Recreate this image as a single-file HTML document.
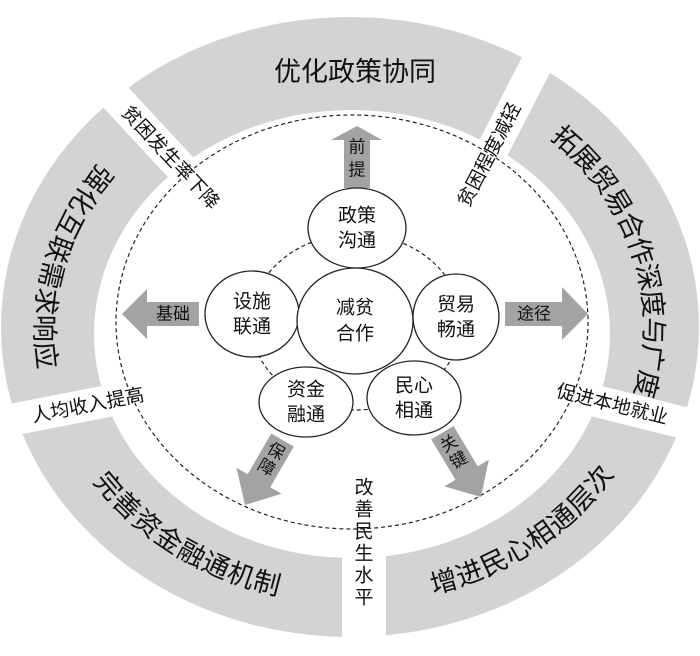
<!DOCTYPE html>
<html><head><meta charset="utf-8"><style>
html,body{margin:0;padding:0;background:#fff;}
svg{display:block;font-family:"Liberation Sans","Noto Sans CJK SC",sans-serif;}
</style></head><body>
<svg width="700" height="656" viewBox="0 0 700 656" xmlns="http://www.w3.org/2000/svg">
<defs>
<path id="pR" d="M 544.8 123.2 A 303 266 0 0 1 638.2 410.2"/>
<path id="pL" d="M 110.6 164.1 A 303 266 0 0 0 48.2 374.2"/>
<path id="pBL" d="M 89.6 461.0 A 303 266 0 0 0 297.4 590.0"/>
<path id="pBR" d="M 412.4 589.6 A 303 266 0 0 0 617.5 452.9"/>
</defs>
<path fill="#d3d3d3" fill-rule="evenodd" d="M 1 327 A 349 310 0 1 0 699 327 A 349 310 0 1 0 1 327 Z M 94 334 A 258 224 0 1 0 610 334 A 258 224 0 1 0 94 334 Z"/>
<g stroke="#fff" stroke-width="32">
<line x1="70" y1="48" x2="274" y2="268"/>
<line x1="444" y1="244" x2="555" y2="28"/>
<line x1="520" y1="382" x2="720" y2="432"/>
<line x1="-20" y1="426" x2="190" y2="385"/>
</g>
<rect x="342" y="530" width="44" height="126" fill="#fff"/>
<g font-size="27" fill="#111">
<text x="355" y="81" text-anchor="middle">优化政策协同</text>
<text dominant-baseline="central"><textPath href="#pR" startOffset="50%" text-anchor="middle">拓展贸易合作深度与广度</textPath></text>
<text dominant-baseline="central"><textPath href="#pL" startOffset="50%" text-anchor="middle">强化互联需求响应</textPath></text>
<text dominant-baseline="central"><textPath href="#pBL" startOffset="50%" text-anchor="middle">完善资金融通机制</textPath></text>
<text dominant-baseline="central"><textPath href="#pBR" startOffset="50%" text-anchor="middle">增进民心相通层次</textPath></text>
</g>
<g font-size="19" fill="#111" text-anchor="middle" dominant-baseline="central">
<text transform="translate(170,158) rotate(47)">贫困发生率下降</text>
<text transform="translate(490,155) rotate(-62.5)">贫困程度减轻</text>
<text transform="translate(612,405) rotate(14)">促进本地就业</text>
<text transform="translate(88,406) rotate(-11)">人均收入提高</text>
<text x="364" y="488">改</text>
<text x="364" y="510">善</text>
<text x="364" y="532">民</text>
<text x="364" y="554">生</text>
<text x="364" y="576">水</text>
<text x="364" y="598">平</text>
</g>
<ellipse cx="352" cy="322" rx="236" ry="207" fill="none" stroke="#222" stroke-width="1.2" stroke-dasharray="4,3"/>
<ellipse cx="356" cy="322" rx="105" ry="88" fill="none" stroke="#222" stroke-width="1.2" stroke-dasharray="4,3"/>
<g fill="#a3a3a3">
<polygon points="344,188 344,140 331,140 357,126 382,140 370,140 370,188"/>
<polygon points="199,302 147,302 147,289 122,314 147,339 147,326 199,326"/>
<polygon points="505,302 562,302 562,287 588,314 562,340 562,326 505,326"/>
<g transform="translate(245,505) rotate(30)"><polygon points="-13,-75 13,-75 13,-28 26,-28 0,0 -26,-28 -13,-28"/></g>
<g transform="translate(481,497) rotate(-31)"><polygon points="-13,-75 13,-75 13,-28 26,-28 0,0 -26,-28 -13,-28"/></g>
</g>
<g font-size="17" fill="#111" text-anchor="middle" dominant-baseline="central">
<text x="357" y="147">前</text>
<text x="357" y="170">提</text>
<text x="173" y="314">基础</text>
<text x="534" y="314">途径</text>
<g transform="translate(245,505) rotate(30)"><text x="0" y="-62">保</text><text x="0" y="-43">障</text></g>
<g transform="translate(481,497) rotate(-31)"><text x="0" y="-62">关</text><text x="0" y="-43">键</text></g>
</g>
<g fill="#fff" stroke="#222" stroke-width="1.3">
<ellipse cx="357" cy="228" rx="49" ry="40"/>
<ellipse cx="252" cy="314" rx="47" ry="43"/>
<ellipse cx="456" cy="317" rx="43" ry="43"/>
<ellipse cx="306" cy="402" rx="47" ry="35"/>
<ellipse cx="414" cy="398" rx="47" ry="37"/>
<ellipse cx="355" cy="321" rx="58" ry="53"/>
</g>
<g font-size="19" fill="#111" text-anchor="middle" dominant-baseline="central">
<text x="357" y="216">政策</text><text x="357" y="241">沟通</text>
<text x="252" y="302">设施</text><text x="252" y="327">联通</text>
<text x="355" y="308">减贫</text><text x="355" y="334">合作</text>
<text x="456" y="305">贸易</text><text x="456" y="330">畅通</text>
<text x="306" y="390">资金</text><text x="306" y="415">融通</text>
<text x="414" y="386">民心</text><text x="414" y="411">相通</text>
</g>
</svg>
</body></html>
